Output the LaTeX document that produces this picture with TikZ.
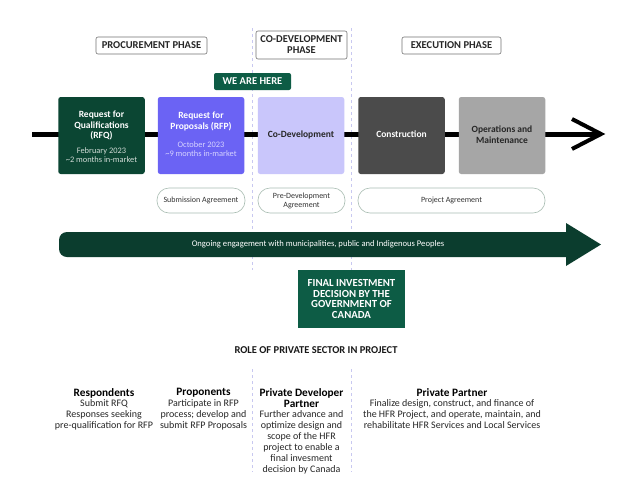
\documentclass[tikz,border=0pt]{standalone}
\usepackage{fontspec}
\setmainfont{Carlito}
\definecolor{rfqgreen}{HTML}{0B4633}
\definecolor{rfppurple}{HTML}{6B63F4}
\definecolor{codevlav}{HTML}{C9C6FB}
\definecolor{constgray}{HTML}{4B4B4B}
\definecolor{omgray}{HTML}{A6A6A6}
\definecolor{bandgreen}{HTML}{0B3D2E}
\definecolor{herogreen}{HTML}{0D5C45}
\definecolor{guidecol}{HTML}{C8C8F0}
\definecolor{pillgray}{HTML}{A9BDB3}
\definecolor{rfqsub}{HTML}{D2DCD7}
\definecolor{rfpsub}{HTML}{D6D3FF}
\begin{document}
\begin{tikzpicture}[x=1pt,y=1pt,
  phase/.style={draw=black!55, line width=0.6pt, rounded corners=2pt, fill=white,
    font=\bfseries\fontsize{10.5}{11}\selectfont, text=black!85, align=center, inner sep=0pt},
  stagebox/.style={rounded corners=2.5pt, inner sep=0pt, minimum width=86.5pt, minimum height=77pt},
  stagetitle/.style={font=\bfseries\fontsize{9.5}{10.4}\selectfont, align=center, inner sep=0pt},
  stagesub/.style={font=\fontsize{8.4}{9.5}\selectfont, align=center, inner sep=0pt},
  pill/.style={draw=pillgray, line width=0.6pt, rounded corners=12pt, minimum height=25pt,
    inner sep=0pt, align=center, font=\fontsize{8}{9}\selectfont, text=black!80, fill=white},
  guide/.style={draw=guidecol, line width=0.6pt, dash pattern=on 3pt off 3pt},
  greenbox/.style={fill=herogreen, text=white, inner sep=0pt, align=center,
    font=\bfseries\fontsize{10.8}{10.8}\selectfont},
  roletitle/.style={font=\bfseries\fontsize{11.3}{11}\selectfont, align=center, inner sep=0pt, anchor=north},
  rolebody/.style={font=\fontsize{10}{11}\selectfont, align=center, text=black!85, inner sep=0pt, anchor=north}
]
\useasboundingbox (0,0) rectangle (640,-493);
\fill[white] (0,0) rectangle (640,-493);

% dashed phase guides
\coordinate (g1a) at (252,-28);  \coordinate (g1b) at (252,-270);
\coordinate (g2a) at (351,-28);  \coordinate (g2b) at (351,-270);
\coordinate (g1c) at (252,-369); \coordinate (g1d) at (252,-472);
\coordinate (g2c) at (351,-369); \coordinate (g2d) at (351,-472);
\draw[guide] (g1a) -- (g1b);
\draw[guide] (g2a) -- (g2b);
\draw[guide] (g1c) -- (g1d);
\draw[guide] (g2c) -- (g2d);

% phase labels
\node[phase, minimum width=111pt, minimum height=17pt] (proc) at (151.5,-45.5) {PROCUREMENT PHASE};
\node[phase, minimum width=91pt, minimum height=28pt] (codevph) at (301.5,-45) {CO-DEVELOPMENT\\PHASE};
\node[phase, minimum width=99pt, minimum height=17pt] (exec) at (451.5,-45.5) {EXECUTION PHASE};

\node[fill=herogreen, text=white, rounded corners=2pt, inner sep=0pt, minimum width=77pt, minimum height=17pt,
  font=\bfseries\fontsize{10.5}{11}\selectfont] (here) at (252.5,-81.5) {WE ARE HERE};

% timeline
\coordinate (tstart) at (32,-134);
\coordinate (tend) at (599,-134);
\coordinate (chevtop) at (572,-119);
\coordinate (chevtip) at (601,-134);
\coordinate (chevbot) at (572,-149);
\draw[line width=5pt] (tstart) -- (tend);
\draw[line width=4pt, miter limit=10] (chevtop) -- (chevtip) -- (chevbot);

% stage boxes
\node[stagebox, fill=rfqgreen] (rfq) at (101.5,-135.5) {};
\node[stagebox, fill=rfppurple] (rfp) at (201,-135.5) {};
\node[stagebox, fill=codevlav] (codev) at (301,-135.5) {};
\node[stagebox, fill=constgray] (const) at (401.5,-135.5) {};
\node[stagebox, fill=omgray] (om) at (502,-135.5) {};

\node[stagetitle, text=white] (rfqt) at (101.5,-125.5) {Request for\\Qualifications\\(RFQ)};
\node[stagesub, text=rfqsub] (rfqs) at (101.5,-155) {February 2023\\\textasciitilde2 months in-market};
\node[stagetitle, text=white] (rfpt) at (201,-121.5) {Request for\\Proposals (RFP)};
\node[stagesub, text=rfpsub] (rfps) at (201,-149) {October 2023\\\textasciitilde9 months in-market};
\node[stagetitle, text=black!85] (codevt) at (301,-135) {Co-Development};
\node[stagetitle, text=white] (constt) at (401.5,-134.5) {Construction};
\node[stagetitle, text=black!85] (omt) at (502,-134.5) {Operations and\\Maintenance};

% agreements
\node[pill, minimum width=88pt] (subag) at (201,-200.5) {Submission Agreement};
\node[pill, minimum width=87pt] (predev) at (301.5,-200.5) {Pre-Development\\Agreement};
\node[pill, minimum width=187pt] (projag) at (451.5,-200.5) {Project Agreement};

% engagement arrow
\fill[bandgreen, rounded corners=8pt] (59,-232) rectangle (575,-257);
\coordinate (headtop) at (566,-223);
\coordinate (headtip) at (601,-244.5);
\coordinate (headbot) at (566,-266);
\fill[bandgreen] (headtop) -- (headtip) -- (headbot) -- cycle;
\node[text=white, font=\fontsize{8.6}{9}\selectfont, inner sep=0pt] (engage) at (318,-244.5)
  {Ongoing engagement with municipalities, public and Indigenous Peoples};

% final investment decision
\node[greenbox, minimum width=107pt, minimum height=58pt] (fid) at (351.5,-299)
  {FINAL INVESTMENT\\DECISION BY THE\\GOVERNMENT OF\\CANADA};

% roles
\node[font=\bfseries\fontsize{10.5}{11}\selectfont, text=black!90, inner sep=0pt] (roles) at (316,-350)
  {ROLE OF PRIVATE SECTOR IN PROJECT};

\node[roletitle] (resp) at (104,-388) {Respondents};
\node[rolebody] (respb) at (104,-399.5) {Submit RFQ\\Responses seeking\\pre-qualification for RFP};

\node[roletitle] (prop) at (203.5,-388) {Proponents};
\node[rolebody] (propb) at (203.5,-399.5) {Participate in RFP\\process; develop and\\submit RFP Proposals};

\node[roletitle] (pdp) at (301.5,-388) {Private Developer\\Partner};
\node[rolebody] (pdpb) at (301.5,-410.5) {Further advance and\\optimize design and\\scope of the HFR\\project to enable a\\final invesment\\decision by Canada};

\node[roletitle] (pp) at (452,-388) {Private Partner};
\node[rolebody] (ppb) at (452,-399.5) {Finalize design, construct, and finance of\\the HFR Project, and operate, maintain, and\\rehabilitate HFR Services and Local Services};
\end{tikzpicture}
\end{document}
